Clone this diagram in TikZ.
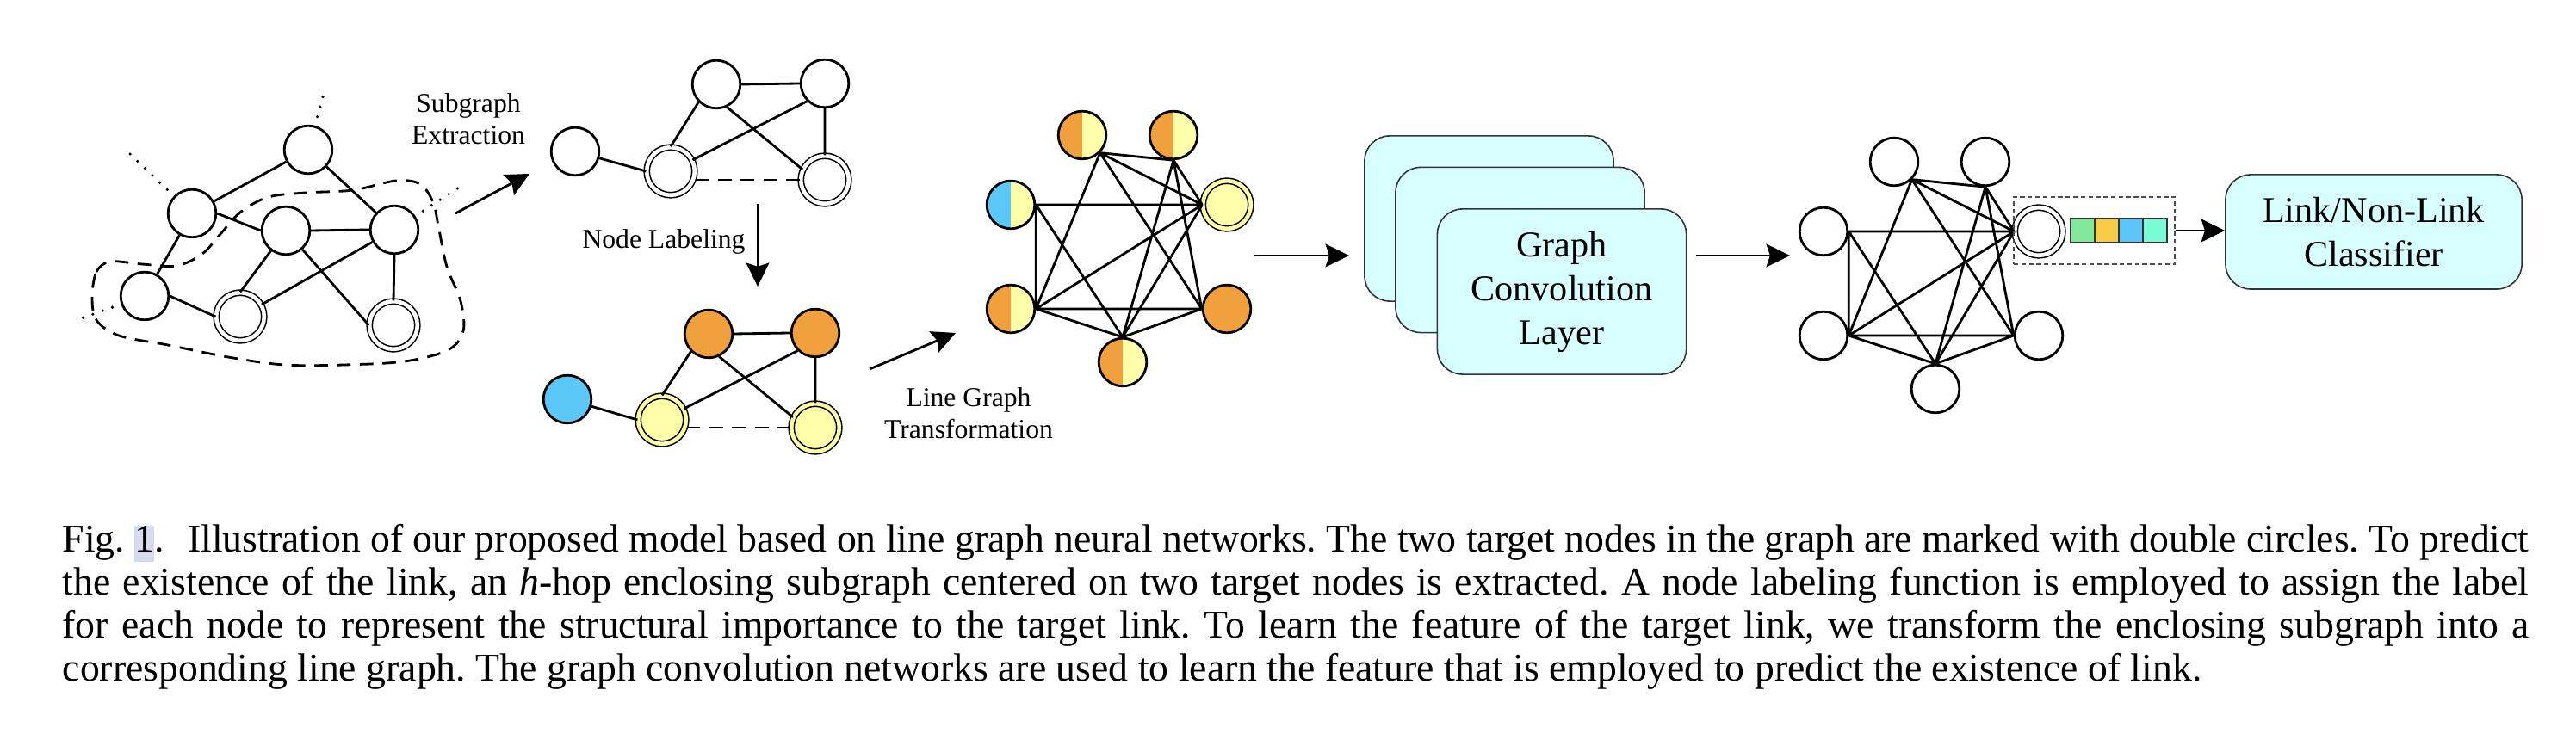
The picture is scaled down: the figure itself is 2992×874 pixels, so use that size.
\documentclass[tikz,border=0pt]{standalone}
\usepackage{fontspec}
\setmainfont{Liberation Serif}
\usetikzlibrary{arrows.meta,calc}

\definecolor{nodeorange}{HTML}{F0A03C}
\definecolor{nodeyellow}{HTML}{FFFFAA}
\definecolor{nodeblue}{HTML}{5BC8F8}
\definecolor{boxcyan}{HTML}{D7FFFF}
\definecolor{vecgreen}{HTML}{80E898}
\definecolor{vecyellow}{HTML}{F7CD48}
\definecolor{vecblue}{HTML}{5AC6FA}
\definecolor{vecaqua}{HTML}{78FAD2}
\definecolor{linkhl}{HTML}{D8DAF0}

\newcommand{\capfont}{\fontsize{13}{14.2}\selectfont\frenchspacing\spaceskip=0.25em plus 0.25em minus 0.14em\relax}

\begin{document}
\begin{tikzpicture}[x=0.01cm, y=-0.01cm,
		vertex/.style={circle, draw, line width=0.8pt, fill=white, minimum size=0.556cm, inner sep=0pt},
		tvertex/.style={circle, draw, line width=0.45pt, double=#1, double distance=1.3pt, fill=#1, minimum size=0.556cm, inner sep=0pt},
		tvertex/.default=white,
		halfvertex/.style 2 args={vertex, fill=#2, path picture={\fill[#1] (path picture bounding box.south west) rectangle (path picture bounding box.north);}},
		conn/.style={line width=0.8pt},
		dashconn/.style={line width=0.8pt, dash pattern=on 4.5pt off 3pt},
		dotline/.style={line width=1pt, line cap=round, dash pattern=on 0pt off 3.4pt, shorten <=3pt},
		arr/.style={line width=0.8pt, -{Stealth[length=7.8pt, width=7.6pt, inset=1.2pt]}},
		steptext/.style={font=\fontsize{9}{10.6}\selectfont, inner sep=0pt, align=center},
		layerbox/.style={draw=black!80, line width=0.45pt, fill=boxcyan, rounded corners=8.3pt, minimum width=2.89cm, minimum height=1.92cm, inner sep=0pt, align=center, font=\fontsize{12}{14.5}\selectfont},
		cell/.style={draw=black!80, line width=0.5pt, minimum size=0.28cm, inner sep=0pt},
		capline/.style={anchor=base west, inner sep=0pt, font=\capfont}
	]
		\useasboundingbox (0,0) rectangle (2992,874);

		% input graph and enclosing region
		\draw[dashconn] plot[smooth cycle, tension=0.55] coordinates {(107,345) (112,316) (128,304) (165,307) (205,309) (235,295) (256,272) (280,246) (312,229) (355,224) (410,221) (460,210) (488,214) (503,235) (509,262) (519,310) (535,350) (538,385) (520,407) (470,420) (400,424) (330,424) (265,415) (195,401) (138,390) (112,372)};
		\node[vertex] (in-a) at (358,174) {};
		\node[vertex] (in-b) at (223,248) {};
		\node[vertex] (in-c) at (332,268) {};
		\node[vertex] (in-d) at (458,267) {};
		\node[vertex] (in-e) at (168,344) {};
		\node[tvertex] (in-f) at (279,368) {};
		\node[tvertex] (in-g) at (457,378) {};
		\draw[conn] (in-a) -- (in-b) (in-a) -- (in-d) (in-b.east) -- (in-c.west) (in-b) -- (in-e)
			(in-c.east) -- (in-d.west) (in-c) -- (in-f.north) (in-c) -- (in-g.west) (in-d) -- (in-f)
			(in-d.south) -- (in-g.north) (in-e.east) -- (in-f.west);
		\coordinate (in-a-out) at (378,102);
		\coordinate (in-b-out) at (150,178);
		\coordinate (in-d-out) at (533,218);
		\coordinate (in-e-out) at (86,373);
		\draw[dotline] (in-a) -- (in-a-out);
		\draw[dotline] (in-b) -- (in-b-out);
		\draw[dotline] (in-d) -- (in-d-out);
		\draw[dotline] (in-e) -- (in-e-out);

		\coordinate (extract-s) at (529,248);
		\coordinate (extract-e) at (615,202);
		\draw[arr] (extract-s) -- (extract-e);
		\node[steptext] (extract-text) at (544,138.5) {Subgraph\\Extraction};

		% extracted subgraph
		\node[vertex] (sg-a) at (668,176) {};
		\node[tvertex] (sg-b) at (779,199) {};
		\node[vertex] (sg-c) at (832,98) {};
		\node[vertex] (sg-d) at (958,97) {};
		\node[tvertex] (sg-e) at (958,209) {};
		\draw[conn] (sg-a) -- (sg-b.west) (sg-b.north) -- (sg-c.south west) (sg-b) -- (sg-d.south west)
			(sg-c.east) -- (sg-d.west) (sg-c.-65) -- (sg-e.155) (sg-d.south) -- (sg-e.north);
		\draw[dashconn] (sg-e.west -| sg-b.east) -- (sg-e.west);

		\coordinate (label-s) at (880,237);
		\coordinate (label-e) at (880,333);
		\draw[arr] (label-s) -- (label-e);
		\node[steptext, anchor=base] (label-text) at (771,288.3) {Node Labeling};

		% labeled subgraph
		\node[vertex, fill=nodeblue] (lb-a) at (659,464) {};
		\node[tvertex=nodeyellow] (lb-b) at (769,488) {};
		\node[vertex, fill=nodeorange] (lb-c) at (823,388) {};
		\node[vertex, fill=nodeorange] (lb-d) at (947,387) {};
		\node[tvertex=nodeyellow] (lb-e) at (947,497) {};
		\draw[conn] (lb-a) -- (lb-b.west) (lb-b.north) -- (lb-c.south west) (lb-b) -- (lb-d.south west)
			(lb-c.east) -- (lb-d.west) (lb-c.-65) -- (lb-e.155) (lb-d.south) -- (lb-e.north);
		\draw[dashconn] (lb-e.west -| lb-b.east) -- (lb-e.west);

		\coordinate (line-s) at (1010,429);
		\coordinate (line-e) at (1110,387);
		\draw[arr] (line-s) -- (line-e);
		\node[steptext] (line-text) at (1125,480) {Line Graph\\Transformation};

		% line graph
		\node[halfvertex={nodeorange}{nodeyellow}] (lg-ce) at (1257,157) {};
		\node[halfvertex={nodeorange}{nodeyellow}] (lg-de) at (1363,157) {};
		\node[halfvertex={nodeblue}{nodeyellow}] (lg-ab) at (1174,238) {};
		\node[tvertex=nodeyellow] (lg-be) at (1425,238) {};
		\node[halfvertex={nodeorange}{nodeyellow}] (lg-bc) at (1174,359) {};
		\node[vertex, fill=nodeorange] (lg-cd) at (1425,359) {};
		\node[halfvertex={nodeorange}{nodeyellow}] (lg-bd) at (1304,421) {};
		\draw[conn] (lg-ab.east) -- (lg-be.west) (lg-ab.east) -- (lg-bc.east) (lg-ab.east) -- (lg-bd.north)
			(lg-be.west) -- (lg-bc.east) (lg-be.west) -- (lg-bd.north) (lg-be.west) -- (lg-ce.south east) (lg-be.west) -- (lg-de.south)
			(lg-cd.west) -- (lg-bc.east) (lg-cd.west) -- (lg-bd.north) (lg-cd.west) -- (lg-ce.south east) (lg-cd.west) -- (lg-de.south)
			(lg-bc.east) -- (lg-bd.north) (lg-bc.east) -- (lg-ce.south east)
			(lg-bd.north) -- (lg-de.south) (lg-ce.south east) -- (lg-de.south);

		% graph convolution layers
		\node[layerbox] (gcn1) at (1729.5,254) {};
		\node[layerbox] (gcn2) at (1765.5,290.5) {};
		\node[layerbox] (gcn3) at (1814,339) {Graph\\Convolution\\Layer};
		\coordinate (gcn-s) at (1457,297);
		\coordinate (gcn-e) at (1567,297);
		\draw[arr] (gcn-s) -- (gcn-e);

		% learned line graph
		\node[vertex] (fg-ce) at (2200,188) {};
		\node[vertex] (fg-de) at (2306,188) {};
		\node[vertex] (fg-ab) at (2118,269) {};
		\node[tvertex] (fg-be) at (2368,269) {};
		\node[vertex] (fg-bc) at (2118,390) {};
		\node[vertex] (fg-cd) at (2368,390) {};
		\node[vertex] (fg-bd) at (2248,452) {};
		\draw[conn] (fg-ab.east) -- (fg-be.west) (fg-ab.east) -- (fg-bc.east) (fg-ab.east) -- (fg-bd.north)
			(fg-be.west) -- (fg-bc.east) (fg-be.west) -- (fg-bd.north) (fg-be.west) -- (fg-ce.south east) (fg-be.west) -- (fg-de.south)
			(fg-cd.west) -- (fg-bc.east) (fg-cd.west) -- (fg-bd.north) (fg-cd.west) -- (fg-ce.south east) (fg-cd.west) -- (fg-de.south)
			(fg-bc.east) -- (fg-bd.north) (fg-bc.east) -- (fg-ce.south east)
			(fg-bd.north) -- (fg-de.south) (fg-ce.south east) -- (fg-de.south);
		\coordinate (fg-in) at (2079,297);
		\draw[arr, shorten <=3pt] (gcn3.east |- fg-in) -- (fg-in);

		% readout of the target link
		\node[cell, fill=vecgreen] (vec1) at (2419,268) {};
		\node[cell, fill=vecyellow] (vec2) at (2447,268) {};
		\node[cell, fill=vecblue] (vec3) at (2475,268) {};
		\node[cell, fill=vecaqua] (vec4) at (2503,268) {};
		\node[draw=black!70, line width=0.4pt, dash pattern=on 1.5pt off 1pt, minimum width=1.87cm, minimum height=0.78cm, inner sep=0pt] (readout) at (2432.5,268) {};

		\node[layerbox, minimum width=3.44cm, minimum height=1.33cm] (clf) at (2757,269.5) {Link/Non-Link\\Classifier};
		\draw[arr] (readout.east) -- (readout.east -| clf.west);

		% caption
		\node[capline] (caption-1) at (72,641.5) {\setlength{\fboxsep}{0pt}\hbox to 28.63cm{Fig. \colorbox{linkhl}{\rule[-3.4pt]{0pt}{11.4pt}1}.\hspace{0.6em}Illustration of our proposed model based on line graph neural networks. The two target nodes in the graph are marked with double circles. To predict}};
		\node[capline] (caption-2) at (72,691.5) {\hbox to 28.63cm{the existence of the link, an \textit{h}-hop enclosing subgraph centered on two target nodes is extracted. A node labeling function is employed to assign the label}};
		\node[capline] (caption-3) at (72,741.5) {\hbox to 28.63cm{for each node to represent the structural importance to the target link. To learn the feature of the target link, we transform the enclosing subgraph into a}};
		\node[capline] (caption-4) at (72,791.5) {corresponding line graph. The graph convolution networks are used to learn the feature that is employed to predict the existence of link.};
	\end{tikzpicture}
\end{document}
